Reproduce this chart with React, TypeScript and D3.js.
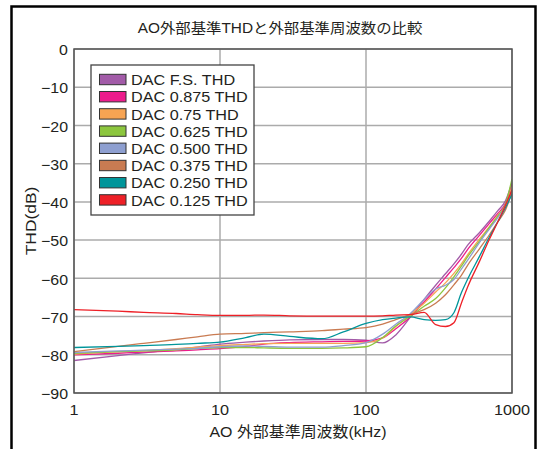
import React from "react";
import * as d3 from "d3";

const freqs = [1, 2, 3, 5, 7, 10, 15, 20, 30, 50, 70, 100, 130, 160, 200, 250, 300, 350, 400, 450, 500, 600, 700, 800, 900, 1000];

const seriesNames = [
  "DAC F.S. THD",
  "DAC 0.875 THD",
  "DAC 0.75 THD",
  "DAC 0.625 THD",
  "DAC 0.500 THD",
  "DAC 0.375 THD",
  "DAC 0.250 THD",
  "DAC 0.125 THD",
];

const seriesColors = ["#A25BA8", "#EC1C8C", "#F7A453", "#8CC63E", "#8E9FD0", "#C97B52", "#00959A", "#EE2027"];

const thdFS = [-81.5, -80.2, -79.5, -78.6, -78, -77.2, -76.7, -76.4, -76.1, -76, -76, -76.2, -76.9, -74.8, -70.3, -65.5, -61.8, -58.8, -56.2, -53.7, -51.2, -48, -45, -42.3, -39.8, -35];
const thd0875 = [-80, -79.6, -79.3, -79, -78.7, -78.4, -77.8, -77.2, -76.8, -76.6, -76.5, -76.4, -75.6, -73.2, -70.2, -66.2, -62.8, -59.8, -57.2, -54.8, -52.3, -48.7, -45.6, -43, -40.5, -35.5];
const thd075 = [-79.8, -79.2, -78.9, -78.4, -78, -77.6, -77.3, -77.1, -77, -77, -77, -76.8, -75.6, -72.6, -69.5, -66.5, -63.6, -61.2, -58.7, -56.2, -53.7, -49.7, -46.5, -43.5, -41, -36];
const thd0625 = [-79.6, -79.2, -79, -78.7, -78.4, -78.1, -78.1, -78.2, -78.3, -78.3, -78.2, -77.9, -75.5, -72.5, -70, -67.3, -65.3, -62.5, -59.6, -56.8, -54.2, -50.2, -46.7, -43.7, -40.7, -34];
const thd0500 = [-79.4, -79, -78.8, -78.5, -78.3, -77.9, -77.7, -77.8, -78, -78, -77.6, -76.8, -74.6, -72, -69.3, -65.5, -62.8, -61.8, -60.3, -57.6, -55.1, -50.6, -47.1, -44.1, -41.2, -37];
const thd0375 = [-79.2, -77.8, -77, -76, -75.3, -74.6, -74.4, -74.2, -74, -73.7, -73.3, -72.9, -72, -70.8, -69.5, -68.2, -66.5, -64.3, -61.7, -59.2, -56.4, -52.2, -48.6, -45.2, -42.2, -37.3];
const thd0250 = [-78.1, -77.8, -77.6, -77.3, -77, -76.7, -75.5, -74.6, -75.2, -75.8, -74, -71.8, -70.8, -70.4, -70.1, -70.8, -71, -70.8, -69, -63.8, -60, -54.2, -49.2, -45.2, -41.6, -38];
const thd0125 = [-68.2, -68.6, -68.9, -69.2, -69.5, -69.7, -69.7, -69.6, -69.8, -69.9, -69.9, -69.9, -69.8, -69.6, -69.5, -68.9, -72.1, -72.6, -71.6, -66.5, -62, -55.5, -49.8, -45.2, -41, -36.8];

const seriesValues = [thdFS, thd0875, thd075, thd0625, thd0500, thd0375, thd0250, thd0125];

const xTicks = [1, 10, 100, 1000];
const yTicks = [0, -10, -20, -30, -40, -50, -60, -70, -80, -90];

const titleText = "AO外部基準THDと外部基準周波数の比較";
const xTitle = "AO 外部基準周波数(kHz)";
const yTitle = "THD(dB)";

const FONT = "'Liberation Sans', Arial, 'Noto Sans CJK JP', sans-serif";

export default function App() {
  const W = 539;
  const H = 449;
  const left = 74;
  const right = 512;
  const top = 49;
  const bottom = 393;

  const x = d3.scaleLog().domain([1, 1000]).range([left, right]);
  const y = d3.scaleLinear().domain([-90, 0]).range([bottom, top]);

  const line = d3
    .line<[number, number]>()
    .x((d) => x(d[0]))
    .y((d) => y(d[1]))
    .curve(d3.curveMonotoneX);

  const textColor = "#231f20";

  return (
    <div style={{ position: "absolute", left: 0, top: 0 }}>
      <svg width={W} height={H} style={{ display: "block", background: "#fff" }} fontFamily={FONT}>
        <rect x={0} y={0} width={W} height={H} fill="#fff" />
        <rect x={11.5} y={6.5} width={524} height={460} fill="none" stroke="#000" strokeWidth={2.5} />

        <text transform="translate(280,28) scale(1.1,1)" textAnchor="middle" dominantBaseline="central" fontSize={14} fill={textColor}>
          {titleText}
        </text>

        <defs>
          <clipPath id="plotclip">
            <rect x={left} y={top} width={right - left} height={bottom - top} />
          </clipPath>
        </defs>

        {yTicks.map((t) => (
          <line key={"gy" + t} x1={left} x2={right} y1={y(t)} y2={y(t)} stroke="#ababab" strokeWidth={1.5} />
        ))}
        {xTicks.map((t) => (
          <line key={"gx" + t} x1={x(t)} x2={x(t)} y1={top} y2={bottom} stroke="#ababab" strokeWidth={1.5} />
        ))}

        <g clipPath="url(#plotclip)">
          {seriesValues.map((vals, i) => (
            <path
              key={seriesNames[i]}
              d={line(freqs.map((f, j) => [f, vals[j]] as [number, number])) || ""}
              fill="none"
              stroke={seriesColors[i]}
              strokeWidth={1.3}
            />
          ))}
        </g>

        <rect x={left} y={top} width={right - left} height={bottom - top} fill="none" stroke="#555" strokeWidth={1.5} />

        {yTicks.map((t) => (
          <text key={"ty" + t} transform={`translate(68,${y(t) + 1}) scale(1.1,1)`} textAnchor="end" dominantBaseline="central" fontSize={14.5} fill={textColor}>
            {t === 0 ? "0" : "\u2212" + Math.abs(t)}
          </text>
        ))}
        {xTicks.map((t) => (
          <text key={"tx" + t} transform={`translate(${x(t)},410) scale(1.12,1)`} textAnchor="middle" dominantBaseline="central" fontSize={14.5} fill={textColor}>
            {String(t)}
          </text>
        ))}

        <text transform="translate(298,432) scale(1.1,1)" textAnchor="middle" dominantBaseline="central" fontSize={14.5} fill={textColor}>
          {xTitle}
        </text>
        <text
          transform={`translate(31, ${(top + bottom) / 2}) rotate(-90) scale(1.2,1)`}
          textAnchor="middle"
          dominantBaseline="central"
          fontSize={14.5}
          fill={textColor}
        >
          {yTitle}
        </text>

        <rect x={91} y={65} width={163} height={150} fill="#fff" stroke="#444" strokeWidth={1.3} />
        {seriesNames.map((name, i) => {
          const cy = 79.5 + i * 17.2;
          return (
            <g key={"lg" + name}>
              <rect x={99.5} y={cy - 5.2} width={26.5} height={10.4} fill={seriesColors[i]} stroke="#333" strokeWidth={1} />
              <text transform={`translate(131,${cy + 0.5}) scale(1.08,1)`} dominantBaseline="central" fontSize={15} fill={textColor}>
                {name}
              </text>
            </g>
          );
        })}
      </svg>
    </div>
  );
}
